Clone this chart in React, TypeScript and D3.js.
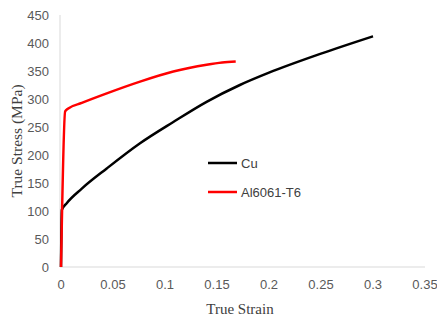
import React from "react";
import * as d3 from "d3";

// strain / stress readings (MPa)
const cuStrain = [0, 0.0008, 0.0055, 0.02, 0.044, 0.076, 0.108, 0.14, 0.172, 0.2, 0.25, 0.3];
const cuStress = [0, 102, 114, 140, 176, 221, 259, 295, 325, 347, 381, 412];
const alStrain = [0, 0.004, 0.007, 0.02, 0.044, 0.076, 0.108, 0.14, 0.155, 0.168];
const alStress = [0, 278, 283, 293, 310, 331, 349, 361, 365, 367];

const xTicks = [0, 0.05, 0.1, 0.15, 0.2, 0.25, 0.3, 0.35];
const yTicks = [0, 50, 100, 150, 200, 250, 300, 350, 400, 450];

const seriesNames = ["Cu", "Al6061-T6"];
const seriesColors = ["#000000", "#ff0000"];

const W = 437, H = 320;
const left = 61, right = 425, top = 15, bottom = 267;

const App = () => {
    const x = d3.scaleLinear().domain([0, 0.35]).range([left, right]);
    const y = d3.scaleLinear().domain([0, 450]).range([bottom, top]);
    const line = d3
        .line<[number, number]>()
        .x(d => x(d[0]))
        .y(d => y(d[1]))
        .curve(d3.curveMonotoneX);

    const cu: [number, number][] = cuStrain.map((s, i) => [s, cuStress[i]]);
    const al: [number, number][] = alStrain.map((s, i) => [s, alStress[i]]);
    const tickFont = "'Liberation Sans', Arial, sans-serif";
    const titleFont = "'Liberation Serif', 'Times New Roman', serif";

    return (
        <div style={{ position: "absolute", left: 0, top: 0 }}>
            <svg width={W} height={H} style={{ display: "block", background: "#fff" }}>
                <line x1={left - 1} x2={left - 1} y1={top} y2={bottom} stroke="#d9d9d9" />
                <line x1={left - 1} x2={right} y1={bottom} y2={bottom} stroke="#d9d9d9" />

                {yTicks.map(t => (
                    <text key={t} x={49} y={y(t)} dy="0.35em" textAnchor="end"
                        fontFamily={tickFont} fontSize={13} fill="#595959">{t}</text>
                ))}
                {xTicks.map(t => (
                    <text key={t} x={x(t)} y={289} textAnchor="middle"
                        fontFamily={tickFont} fontSize={13} fill="#595959">{t}</text>
                ))}

                <text transform={`translate(22 ${(top + bottom) / 2}) rotate(-90)`} textAnchor="middle"
                    fontFamily={titleFont} fontSize={15.5} fill="#404040">True Stress (MPa)</text>
                <text x={240} y={314} textAnchor="middle"
                    fontFamily={titleFont} fontSize={15} fill="#404040">True Strain</text>

                <path d={line(cu) || ""} fill="none" stroke={seriesColors[0]} strokeWidth={2.5} />
                <path d={line(al) || ""} fill="none" stroke={seriesColors[1]} strokeWidth={2.5} />

                {seriesNames.map((n, i) => (
                    <g key={n} transform={`translate(208 ${163 + i * 29})`}>
                        <line x1={0} x2={29} y1={0} y2={0} stroke={seriesColors[i]} strokeWidth={2.5} />
                        <text x={33} y={0} dy="0.35em" fontFamily={tickFont} fontSize={13} fill="#404040">{n}</text>
                    </g>
                ))}
            </svg>
        </div>
    );
};

export default App;
